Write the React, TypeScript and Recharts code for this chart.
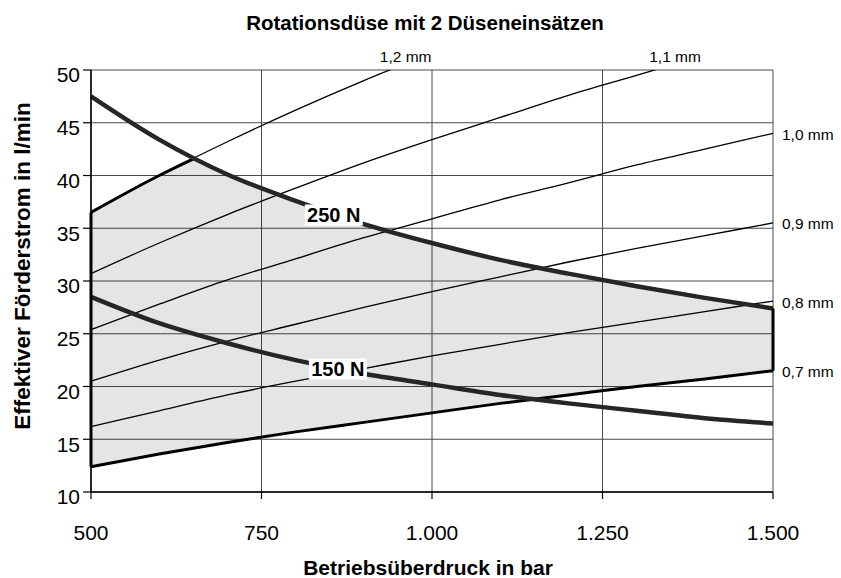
import React from 'react';
import {
  ComposedChart,
  Line,
  Area,
  XAxis,
  YAxis,
  CartesianGrid,
  ReferenceLine,
  ReferenceDot,
} from 'recharts';

// ---------- data ----------
const pressure = [500, 600, 700, 800, 900, 1000, 1100, 1200, 1300, 1400, 1500];

const nozzle12 = [36.5, 40.0, 43.2, 46.2, 49.0, 51.6, null, null, null, null, null];
const nozzle11 = [30.7, 33.6, 36.3, 38.8, 41.2, 43.4, 45.5, 47.6, 49.5, 51.4, null];
const nozzle10 = [25.4, 27.8, 30.1, 32.1, 34.1, 35.9, 37.7, 39.3, 41.0, 42.5, 44.0];
const nozzle09 = [20.5, 22.5, 24.3, 25.9, 27.5, 29.0, 30.4, 31.8, 33.1, 34.3, 35.5];
const nozzle08 = [16.2, 17.7, 19.2, 20.5, 21.7, 22.9, 24.0, 25.1, 26.1, 27.1, 28.1];
const nozzle07 = [12.4, 13.6, 14.7, 15.7, 16.6, 17.5, 18.4, 19.2, 20.0, 20.7, 21.5];
const force250 = [47.5, 43.4, 40.1, 37.6, 35.4, 33.6, 32.0, 30.7, 29.5, 28.4, 27.4];
const force150 = [28.5, 26.0, 24.1, 22.5, 21.2, 20.2, 19.2, 18.4, 17.7, 17.0, 16.5];

// operating range (gray area)
const areaPressure = [500, 600, 651, 700, 800, 900, 1000, 1100, 1200, 1300, 1400, 1500];
const areaLow = [12.4, 13.6, 14.1, 14.7, 15.7, 16.6, 17.5, 18.4, 19.2, 20.0, 20.7, 21.5];
const areaHigh = [36.5, 40.0, 41.6, 40.1, 37.6, 35.4, 33.6, 32.0, 30.7, 29.5, 28.4, 27.4];

// thick part of the 1,2 mm line (boundary of operating range)
const edge12Pressure = [500, 600, 651];
const edge12Values = [36.5, 40.0, 41.6];

const xTicks = [500, 750, 1000, 1250, 1500];
const xTickLabels = ['500', '750', '1.000', '1.250', '1.500'];
const yTicks = [10, 15, 20, 25, 30, 35, 40, 45, 50];

const title = 'Rotationsdüse mit 2 Düseneinsätzen';
const xTitle = 'Betriebsüberdruck in bar';
const yTitle = 'Effektiver Förderstrom in l/min';

// label anchors (data coordinates)
const nozzleLabels = [
  { text: '1,2 mm', p: 935, q: 50, pos: 'top' },
  { text: '1,1 mm', p: 1330, q: 50, pos: 'top' },
  { text: '1,0 mm', p: 1500, q: 44.0, pos: 'right' },
  { text: '0,9 mm', p: 1500, q: 35.5, pos: 'right' },
  { text: '0,8 mm', p: 1500, q: 28.1, pos: 'right' },
  { text: '0,7 mm', p: 1500, q: 21.5, pos: 'right' },
];
const forceLabels = [
  { text: '250 N', p: 856, q: 36.3 },
  { text: '150 N', p: 862, q: 21.7 },
];

// ---------- helpers ----------
const FONT = '"Liberation Sans", Arial, Helvetica, sans-serif';

const toSeries = (xs: number[], vals: (number | null)[]) =>
  xs
    .map((p, i) => ({ p, v: vals[i] }))
    .filter((d) => d.v !== null && d.v !== undefined);

const areaData = areaPressure.map((p, i) => ({ p, range: [areaLow[i], areaHigh[i]] }));

const XTick = (props: any) => {
  const { x, y, payload } = props;
  const idx = xTicks.indexOf(payload.value);
  return (
    <text x={x} y={y} dy="0.71em" textAnchor="middle" fontSize={21} fontFamily={FONT} fill="#000">
      {idx >= 0 ? xTickLabels[idx] : payload.value}
    </text>
  );
};

const YTick = (props: any) => {
  const { x, y, payload } = props;
  return (
    <text x={x} y={y + 5} dy="0.355em" textAnchor="end" fontSize={21} fontFamily={FONT} fill="#000">
      {payload.value}
    </text>
  );
};

const thin = { stroke: '#000', strokeWidth: 1.3 };

export default function App() {
  return (
    <div style={{ position: 'absolute', left: 0, top: 0, width: 841, height: 578, background: '#fff' }}>
      <ComposedChart
        width={841}
        height={578}
        margin={{ top: 70, right: 68, bottom: 26, left: 31 }}
      >
        <CartesianGrid stroke="#4a4a4a" strokeWidth={1} />
        <XAxis
          type="number"
          dataKey="p"
          domain={[500, 1500]}
          ticks={xTicks}
          interval={0}
          tickSize={7}
          tickMargin={26}
          height={60}
          axisLine={{ stroke: '#000', strokeWidth: 1.5 }}
          tickLine={{ stroke: '#000', strokeWidth: 1.2 }}
          tick={<XTick />}
        />
        <YAxis
          type="number"
          domain={[10, 50]}
          ticks={yTicks}
          interval={0}
          allowDataOverflow
          tickSize={8}
          tickMargin={3}
          width={60}
          axisLine={{ stroke: '#000', strokeWidth: 1.5 }}
          tickLine={{ stroke: '#000', strokeWidth: 1.2 }}
          tick={<YTick />}
        />

        <Area
          data={areaData}
          dataKey="range"
          type="monotone"
          stroke="none"
          fill="#000"
          fillOpacity={0.1}
          isAnimationActive={false}
          activeDot={false}
          dot={false}
        />

        <Line data={toSeries(pressure, nozzle12)} dataKey="v" type="monotone" {...thin} dot={false} activeDot={false} isAnimationActive={false} />
        <Line data={toSeries(pressure, nozzle11)} dataKey="v" type="monotone" {...thin} dot={false} activeDot={false} isAnimationActive={false} />
        <Line data={toSeries(pressure, nozzle10)} dataKey="v" type="monotone" {...thin} dot={false} activeDot={false} isAnimationActive={false} />
        <Line data={toSeries(pressure, nozzle09)} dataKey="v" type="monotone" {...thin} dot={false} activeDot={false} isAnimationActive={false} />
        <Line data={toSeries(pressure, nozzle08)} dataKey="v" type="monotone" {...thin} dot={false} activeDot={false} isAnimationActive={false} />
        <Line data={toSeries(pressure, nozzle07)} dataKey="v" type="monotone" stroke="#000" strokeWidth={3} dot={false} activeDot={false} isAnimationActive={false} />
        <Line data={toSeries(edge12Pressure, edge12Values)} dataKey="v" type="monotone" stroke="#000" strokeWidth={3} dot={false} activeDot={false} isAnimationActive={false} />

        <Line data={toSeries(pressure, force250)} dataKey="v" type="monotone" stroke="#262626" strokeWidth={4.5} dot={false} activeDot={false} isAnimationActive={false} />
        <Line data={toSeries(pressure, force150)} dataKey="v" type="monotone" stroke="#262626" strokeWidth={4.5} dot={false} activeDot={false} isAnimationActive={false} />

        <ReferenceLine
          segment={[{ x: 500, y: areaLow[0] }, { x: 500, y: areaHigh[0] }]}
          stroke="#000"
          strokeWidth={3}
          ifOverflow="visible"
        />
        <ReferenceLine
          segment={[
            { x: 1500, y: areaLow[areaLow.length - 1] },
            { x: 1500, y: areaHigh[areaHigh.length - 1] },
          ]}
          stroke="#000"
          strokeWidth={3}
          ifOverflow="visible"
        />

        {nozzleLabels.map((l) => (
          <ReferenceDot
            key={l.text}
            x={l.p}
            y={l.q}
            r={0}
            ifOverflow="visible"
            shape={(props: any) => {
              const { cx, cy } = props;
              if (l.pos === 'top') {
                return (
                  <text x={cx + 18} y={cy - 8} textAnchor="middle" fontSize={15.5} fontFamily={FONT} fill="#000">
                    {l.text}
                  </text>
                );
              }
              return (
                <text x={cx + 9} y={cy + 1} dy="0.355em" textAnchor="start" fontSize={15.5} fontFamily={FONT} fill="#000">
                  {l.text}
                </text>
              );
            }}
          />
        ))}

        {forceLabels.map((l) => (
          <ReferenceDot
            key={l.text}
            x={l.p}
            y={l.q}
            r={0}
            ifOverflow="visible"
            shape={(props: any) => {
              const { cx, cy } = props;
              return (
                <g>
                  <rect x={cx - 29} y={cy - 10} width={58} height={21} fill="#fff" />
                  <text
                    x={cx}
                    y={cy}
                    dy="0.355em"
                    textAnchor="middle"
                    fontSize={20}
                    fontWeight="bold"
                    fontFamily={FONT}
                    fill="#000"
                  >
                    {l.text}
                  </text>
                </g>
              );
            }}
          />
        ))}
      </ComposedChart>

      <svg
        width={841}
        height={578}
        style={{ position: 'absolute', left: 0, top: 0, pointerEvents: 'none' }}
      >
        <text x={425} y={30} textAnchor="middle" fontSize={20.5} fontWeight="bold" fontFamily={FONT} fill="#000">
          {title}
        </text>
        <text x={428} y={575} textAnchor="middle" fontSize={21} fontWeight="bold" fontFamily={FONT} fill="#000">
          {xTitle}
        </text>
        <text
          x={22}
          y={266}
          dy="0.355em"
          textAnchor="middle"
          fontSize={22.5}
          fontWeight="bold"
          fontFamily={FONT}
          fill="#000"
          transform="rotate(-90 22 266)"
        >
          {yTitle}
        </text>
      </svg>
    </div>
  );
}
